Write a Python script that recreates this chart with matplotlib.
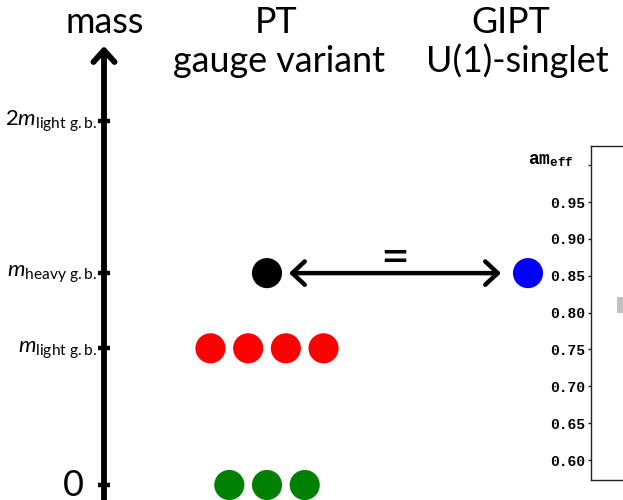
import matplotlib
matplotlib.use("Agg")
import matplotlib.pyplot as plt
import numpy as np

plt.rcParams['font.family'] = ['Lato', 'DejaVu Sans']
plt.rcParams['mathtext.fontset'] = 'custom'
plt.rcParams['mathtext.rm'] = 'Lato'
plt.rcParams['mathtext.it'] = 'Lato:italic'
plt.rcParams['mathtext.bf'] = 'Lato:bold'
plt.rcParams['mathtext.tt'] = 'Liberation Mono:bold'

# ---------------- data ----------------
# mass levels (schematic units, m_light = 1)
mass_tick_values = [0.0, 1.0, 1.55, 2.66]
mass_tick_labels = ["0", r"$m_{\mathrm{light\ g.b.}}$", r"$m_{\mathrm{heavy\ g.b.}}$",
                    r"$2m_{\mathrm{light\ g.b.}}$"]

# PT (gauge variant) states: mass level, multiplicity, colour
pt_levels = [0.0, 1.0, 1.55]
pt_counts = [3, 4, 1]
pt_colors = ["green", "red", "black"]

# GIPT (U(1)-singlet) states
gipt_levels = [1.55]
gipt_counts = [1]
gipt_colors = ["blue"]

# inset: effective mass plot
inset_ticks = [0.60, 0.65, 0.70, 0.75, 0.80, 0.85, 0.90, 0.95, 1.00]
inset_tick_labels = ["0.60", "0.65", "0.70", "0.75", "0.80", "0.85", "0.90", "0.95", ""]
inset_t = [2.6]
inset_center = [0.8105]
inset_err = [0.0105]

# ---------------- layout ----------------
W, H = 623, 500
fig = plt.figure(figsize=(W / 100, H / 100), dpi=100)
y0_px, unit_px = 485.0, 136.7
ax = fig.add_axes([0, 0, 1, 1])
ax.set_xlim(0, W)
ax.set_ylim((y0_px - H) / unit_px, y0_px / unit_px)
ax.axis('off')

def fx(x):
    return x / W

def fy(y):
    return 1 - y / H

def m_of_px(y):
    return (y0_px - y) / unit_px

axis_x = 104
# mass axis arrow
ax.annotate('', xy=(axis_x, m_of_px(46)), xytext=(axis_x, m_of_px(H + 5)),
            arrowprops=dict(arrowstyle='->,head_length=0.42,head_width=0.38',
                            mutation_scale=20, lw=4.2, color='black',
                            shrinkA=0, shrinkB=0, joinstyle='round',
                            capstyle='round'))
ax.hlines(mass_tick_values, axis_x - 6, axis_x + 6, colors='black', lw=3.2)

# tick labels
for v, lab in zip(mass_tick_values, mass_tick_labels):
    if lab == "0":
        ax.text(73, v, lab, ha='center', va='center', fontsize=26)
    else:
        ax.text(97, v - 4 / unit_px, lab, ha='right', va='baseline', fontsize=16)

# states
spacing = 37.7
dot_s = 470
for centre, levels, counts, colors in [(267, pt_levels, pt_counts, pt_colors),
                                       (528, gipt_levels, gipt_counts, gipt_colors)]:
    for lv, n, c in zip(levels, counts, colors):
        xs = centre + spacing * (np.arange(n) - (n - 1) / 2)
        ax.scatter(xs, [lv] * n, s=dot_s, color=c, edgecolors='none', zorder=3)

# equality arrow
ax.annotate('', xy=(289, gipt_levels[0]), xytext=(501, gipt_levels[0]),
            arrowprops=dict(arrowstyle='<->,head_length=0.45,head_width=0.42',
                            mutation_scale=20, lw=3.2, color='black',
                            shrinkA=0, shrinkB=0))
ax.text(395, gipt_levels[0] + 14 / unit_px, "=", ha='center', va='center', fontsize=36)

# titles
fs_title = 25.8
fig.text(fx(104.5), fy(33), "mass", ha='center', va='baseline', fontsize=fs_title)
fig.text(fx(276), fy(33), "PT", ha='center', va='baseline', fontsize=fs_title)
fig.text(fx(279), fy(72), "gauge variant", ha='center', va='baseline', fontsize=fs_title)
fig.text(fx(511), fy(33), "GIPT", ha='center', va='baseline', fontsize=fs_title)
fig.text(fx(517), fy(72), "U(1)-singlet", ha='center', va='baseline', fontsize=fs_title)

# inset effective-mass axes
ix0, iy_top, iy_bot = 591, 145.7, 480
iax = fig.add_axes([fx(ix0), fy(iy_bot), 110 / W, (iy_bot - iy_top) / H])
iax.set_xlim(0, 11)
iax.set_ylim(0.5729, 1.0264)
iax.bar(inset_t, [2 * e for e in inset_err], bottom=[c - e for c, e in zip(inset_center, inset_err)],
        width=2.0, align='edge', color='#c0c0c0', edgecolor='none')
iax.set_yticks(inset_ticks)
iax.set_yticklabels(inset_tick_labels, fontfamily='Liberation Mono', fontweight='bold', fontsize=10.5)
iax.set_xticks([])
iax.tick_params(axis='y', direction='out', length=2.5, width=1, pad=1.5, color='#222222')
for side in ['left', 'top', 'bottom', 'right']:
    iax.spines[side].set_linewidth(1.0)
    iax.spines[side].set_color('#222222')
fig.text(fx(551), fy(164), r"$\mathtt{am}_{\mathtt{eff}}$", ha='center', va='baseline', fontsize=13)

fig.savefig("out.png", dpi=100)
